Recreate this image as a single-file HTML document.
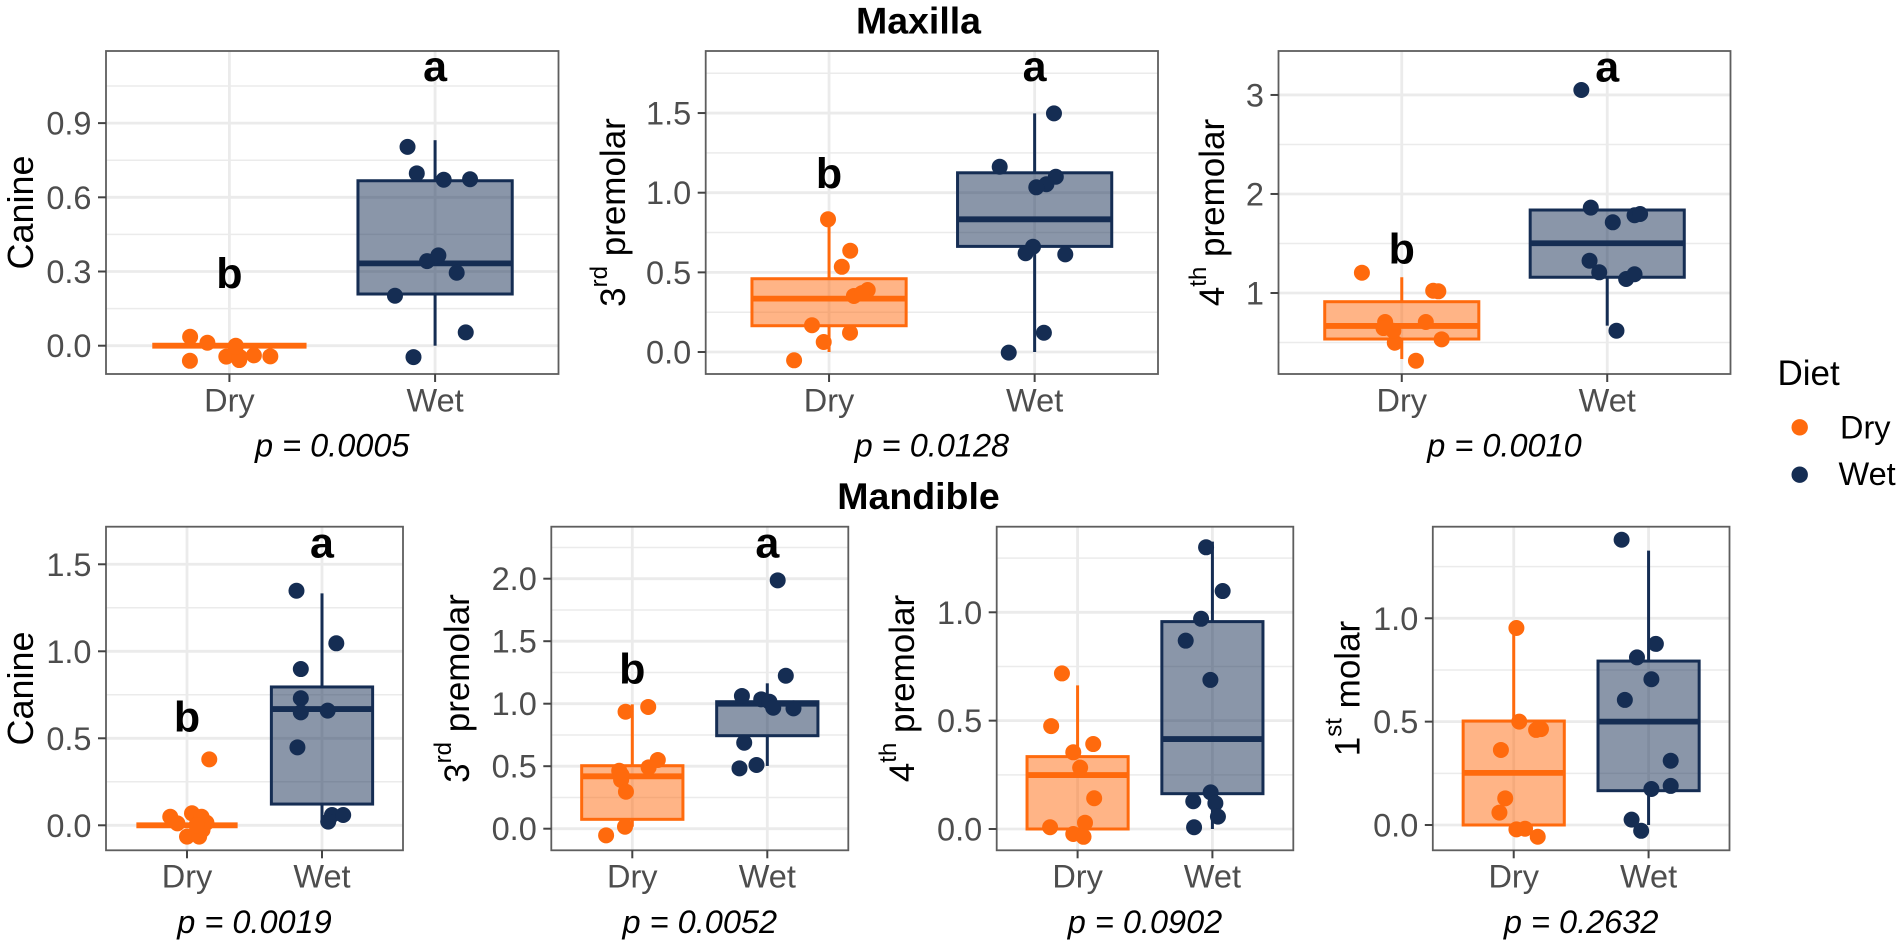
<!DOCTYPE html>
<html lang="en">
<head>
<meta charset="utf-8">
<title>Maxilla and Mandible box plots by diet</title>
<style>
  html, body { margin: 0; padding: 0; background: #ffffff; width: 1902px; height: 946px; overflow: hidden; }
  svg { display: block; font-family: "Liberation Sans", sans-serif; }
  text { white-space: pre; }
</style>
</head>
<body>
<svg id="figure" xmlns="http://www.w3.org/2000/svg" width="1902" height="946" viewBox="0 0 1902 946">
  <rect x="0" y="0" width="1902" height="946" fill="#ffffff"/>
  <text x="918.5" y="33.5" font-size="37.5" font-weight="bold" text-anchor="middle" fill="#000">Maxilla</text>
  <text x="918.5" y="509" font-size="37.5" font-weight="bold" text-anchor="middle" fill="#000">Mandible</text>
  <g>
    <text x="1777.5" y="385" font-size="35" fill="#000">Diet</text>
    <circle cx="1799.7" cy="427.3" r="8.2" fill="#ff6a0d"/>
    <text x="1840" y="438.3" font-size="32.5" fill="#000">Dry</text>
    <circle cx="1799.7" cy="474.7" r="8.2" fill="#152d53"/>
    <text x="1838.5" y="485" font-size="32.5" fill="#000">Wet</text>
  </g>
</svg>
<script>
// ---------- data ----------
const categories = ['Dry', 'Wet'];

// Box stats are: lower whisker, Q1, median, Q3, upper whisker.
// Jitter is in category units, relative to the category centre.
const maxCanineTicks = ['0.0', '0.3', '0.6', '0.9'];
const maxCanineDomain = [-0.1144, 1.1916];
const maxCanineDryValues = [0.036, 0.012, -0.061, 0, -0.044, -0.058, -0.039, -0.043, -0.045, -0.005];
const maxCanineDryJitter = [-0.191, -0.107, -0.192, 0.031, -0.015, 0.048, 0.119, 0.199, 0.05, 0.03];
const maxCanineWetValues = [0.804, 0.697, 0.671, 0.673, 0.342, 0.365, 0.295, 0.202, 0.054, -0.046];
const maxCanineWetJitter = [-0.134, -0.089, 0.042, 0.17, -0.039, 0.016, 0.105, -0.195, 0.149, -0.105];
const maxCanineDryBox = [0, 0, 0, 0, 0];
const maxCanineWetBox = [0, 0.209, 0.333, 0.667, 0.831];
const maxCanineLetters = ['b', 'a'];
const maxCanineLetterY = [0.233, 1.07];

const max3rdTicks = ['0.0', '0.5', '1.0', '1.5'];
const max3rdDomain = [-0.138, 1.8895];
const max3rdDryValues = [0.833, 0.636, 0.535, 0.389, 0.352, 0.37, 0.168, 0.121, 0.063, -0.052];
const max3rdDryJitter = [-0.005, 0.103, 0.062, 0.188, 0.121, 0.16, -0.083, 0.102, -0.026, -0.17];
const max3rdWetValues = [1.498, 1.163, 1.1, 1.053, 1.034, 0.661, 0.62, 0.613, 0.121, -0.004];
const max3rdWetJitter = [0.094, -0.17, 0.103, 0.057, 0.008, -0.008, -0.044, 0.149, 0.045, -0.126];
const max3rdDryBox = [0, 0.165, 0.335, 0.46, 0.833];
const max3rdWetBox = [0, 0.663, 0.833, 1.125, 1.498];
const max3rdLetters = ['b', 'a'];
const max3rdLetterY = [1.028, 1.701];

const max4thTicks = ['1', '2', '3'];
const max4thDomain = [0.1818, 3.444];
const max4thDryValues = [1.205, 1.023, 1.017, 0.707, 0.532, 0.316, 0.498, 0.707, 0.619, 0.646];
const max4thDryJitter = [-0.194, 0.153, 0.178, 0.117, 0.194, 0.069, -0.034, -0.081, -0.041, -0.089];
const max4thWetValues = [3.05, 1.862, 1.714, 1.785, 1.798, 1.326, 1.209, 1.141, 1.189, 0.619];
const max4thWetJitter = [-0.126, -0.08, 0.027, 0.133, 0.16, -0.086, -0.039, 0.092, 0.133, 0.045];
const max4thDryBox = [0.333, 0.535, 0.667, 0.912, 1.159];
const max4thWetBox = [0.67, 1.159, 1.502, 1.838, 1.838];
const max4thLetters = ['b', 'a'];
const max4thLetterY = [1.3, 3.134];

const manCanineTicks = ['0.0', '0.5', '1.0', '1.5'];
const manCanineDomain = [-0.1437, 1.716];
const manCanineDryValues = [0.379, 0.049, 0.011, 0.069, 0.049, 0.015, -0.065, -0.065, -0.027, 0.0];
const manCanineDryJitter = [0.165, -0.124, -0.071, 0.037, 0.108, 0.144, 0, 0.09, 0.115, 0.07];
const manCanineWetValues = [1.348, 1.046, 0.898, 0.73, 0.649, 0.659, 0.448, 0.059, 0.059, 0.021];
const manCanineWetJitter = [-0.189, 0.106, -0.157, -0.157, -0.157, 0.042, -0.182, 0.074, 0.157, 0.046];
const manCanineDryBox = [0, 0, 0, 0, 0];
const manCanineWetBox = [0.02, 0.122, 0.668, 0.795, 1.333];
const manCanineLetters = ['b', 'a'];
const manCanineLetterY = [0.538, 1.54];

const man3rdTicks = ['0.0', '0.5', '1.0', '1.5', '2.0'];
const man3rdDomain = [-0.1728, 2.416];
const man3rdDryValues = [0.974, 0.936, 0.55, 0.491, 0.464, 0.43, 0.39, 0.296, 0.016, -0.053];
const man3rdDryJitter = [0.118, -0.05, 0.189, 0.121, -0.097, -0.08, -0.083, -0.047, -0.054, -0.194];
const man3rdWetValues = [1.987, 1.224, 1.062, 1.035, 1.016, 0.968, 0.963, 0.688, 0.483, 0.51];
const man3rdWetJitter = [0.077, 0.137, -0.188, -0.045, 0.016, 0.044, 0.194, -0.171, -0.206, -0.08];
const man3rdDryBox = [0.016, 0.075, 0.419, 0.504, 0.995];
const man3rdWetBox = [0.502, 0.744, 1.0, 1.016, 1.163];
const man3rdLetters = ['b', 'a'];
const man3rdLetterY = [1.163, 2.171];

const man4thTicks = ['0.0', '0.5', '1.0'];
const man4thDomain = [-0.0983, 1.395];
const man4thDryValues = [0.718, 0.475, 0.392, 0.354, 0.283, 0.142, 0.029, 0.008, -0.023, -0.036];
const man4thDryJitter = [-0.116, -0.196, 0.116, -0.032, 0.019, 0.123, 0.055, -0.204, -0.032, 0.044];
const man4thWetValues = [1.3, 1.098, 0.97, 0.869, 0.688, 0.169, 0.128, 0.119, 0.057, 0.008];
const man4thWetJitter = [-0.047, 0.076, -0.084, -0.198, -0.015, -0.013, -0.142, 0.022, 0.041, -0.136];
const man4thDryBox = [0, 0, 0.249, 0.334, 0.663];
const man4thWetBox = [0, 0.163, 0.415, 0.957, 1.326];
const man4thLetters = [];
const man4thLetterY = [];

const man1stTicks = ['0.0', '0.5', '1.0'];
const man1stDomain = [-0.1224, 1.443];
const man1stDryValues = [0.953, 0.5, 0.46, 0.464, 0.363, 0.129, 0.06, -0.021, -0.018, -0.057];
const man1stDryJitter = [0.02, 0.041, 0.166, 0.202, -0.095, -0.063, -0.106, 0.02, 0.084, 0.178];
const man1stWetValues = [1.38, 0.876, 0.811, 0.705, 0.605, 0.311, 0.174, 0.189, 0.026, -0.028];
const man1stWetJitter = [-0.2, 0.054, -0.086, 0.021, -0.176, 0.164, 0.021, 0.164, -0.126, -0.055];
const man1stDryBox = [0, 0, 0.252, 0.503, 0.985];
const man1stWetBox = [0, 0.166, 0.5, 0.793, 1.327];
const man1stLetters = [];
const man1stLetterY = [];

// ---------- layout and style ----------
const ORANGE = '#ff6a0d';
const NAVY = '#152d53';
const GRID = '#ebebeb';
const TOP = [51, 374];
const BOTTOM = [526.7, 850.3];

const panels = [
  { id: 'maxilla-canine', left: 106, right: 558.5, band: TOP, ticks: maxCanineTicks, domain: maxCanineDomain, dryV: maxCanineDryValues, dryJ: maxCanineDryJitter, wetV: maxCanineWetValues, wetJ: maxCanineWetJitter, dryBox: maxCanineDryBox, wetBox: maxCanineWetBox, letters: maxCanineLetters, letterY: maxCanineLetterY, titleBase: 'Canine', titleSup: '', titleRest: '', titleX: 33, p: 'p = 0.0005', pY: 456.7, tickY: 411.5 },
  { id: 'maxilla-3rd-premolar', left: 705.7, right: 1158, band: TOP, ticks: max3rdTicks, domain: max3rdDomain, dryV: max3rdDryValues, dryJ: max3rdDryJitter, wetV: max3rdWetValues, wetJ: max3rdWetJitter, dryBox: max3rdDryBox, wetBox: max3rdWetBox, letters: max3rdLetters, letterY: max3rdLetterY, titleBase: '3', titleSup: 'rd', titleRest: ' premolar', titleX: 625, p: 'p = 0.0128', pY: 456.7, tickY: 411.5 },
  { id: 'maxilla-4th-premolar', left: 1278.5, right: 1730.5, band: TOP, ticks: max4thTicks, domain: max4thDomain, dryV: max4thDryValues, dryJ: max4thDryJitter, wetV: max4thWetValues, wetJ: max4thWetJitter, dryBox: max4thDryBox, wetBox: max4thWetBox, letters: max4thLetters, letterY: max4thLetterY, titleBase: '4', titleSup: 'th', titleRest: ' premolar', titleX: 1224, p: 'p = 0.0010', pY: 456.7, tickY: 411.5 },
  { id: 'mandible-canine', left: 106, right: 403, band: BOTTOM, ticks: manCanineTicks, domain: manCanineDomain, dryV: manCanineDryValues, dryJ: manCanineDryJitter, wetV: manCanineWetValues, wetJ: manCanineWetJitter, dryBox: manCanineDryBox, wetBox: manCanineWetBox, letters: manCanineLetters, letterY: manCanineLetterY, titleBase: 'Canine', titleSup: '', titleRest: '', titleX: 33, p: 'p = 0.0019', pY: 933, tickY: 887.5 },
  { id: 'mandible-3rd-premolar', left: 551.3, right: 848.3, band: BOTTOM, ticks: man3rdTicks, domain: man3rdDomain, dryV: man3rdDryValues, dryJ: man3rdDryJitter, wetV: man3rdWetValues, wetJ: man3rdWetJitter, dryBox: man3rdDryBox, wetBox: man3rdWetBox, letters: man3rdLetters, letterY: man3rdLetterY, titleBase: '3', titleSup: 'rd', titleRest: ' premolar', titleX: 469, p: 'p = 0.0052', pY: 933, tickY: 887.5 },
  { id: 'mandible-4th-premolar', left: 996.7, right: 1293.3, band: BOTTOM, ticks: man4thTicks, domain: man4thDomain, dryV: man4thDryValues, dryJ: man4thDryJitter, wetV: man4thWetValues, wetJ: man4thWetJitter, dryBox: man4thDryBox, wetBox: man4thWetBox, letters: man4thLetters, letterY: man4thLetterY, titleBase: '4', titleSup: 'th', titleRest: ' premolar', titleX: 914, p: 'p = 0.0902', pY: 933, tickY: 887.5 },
  { id: 'mandible-1st-molar', left: 1432.8, right: 1729.5, band: BOTTOM, ticks: man1stTicks, domain: man1stDomain, dryV: man1stDryValues, dryJ: man1stDryJitter, wetV: man1stWetValues, wetJ: man1stWetJitter, dryBox: man1stDryBox, wetBox: man1stWetBox, letters: man1stLetters, letterY: man1stLetterY, titleBase: '1', titleSup: 'st', titleRest: ' molar', titleX: 1359.5, p: 'p = 0.2632', pY: 933, tickY: 887.5 }
];

// ---------- drawing ----------
const SVG_NS = 'http://www.w3.org/2000/svg';
const figure = document.getElementById('figure');

function make(parent, tag, attrs, content) {
  const node = document.createElementNS(SVG_NS, tag);
  Object.keys(attrs).forEach(function (k) { node.setAttribute(k, attrs[k]); });
  if (content !== undefined) node.textContent = content;
  parent.appendChild(node);
  return node;
}

function drawPanel(cfg) {
  const L = cfg.left, R = cfg.right, T = cfg.band[0], B = cfg.band[1];
  const step = (R - L) / 2.2;
  const xScale = function (c) { return L + (0.6 + c) * step; };
  const yScale = function (v) {
    return B - (v - cfg.domain[0]) / (cfg.domain[1] - cfg.domain[0]) * (B - T);
  };

  const g = make(figure, 'g', {});
  
  

  // Minor gridlines sit midway between major ticks, extended across the domain.
  const tickVals = cfg.ticks.map(parseFloat);
  const tickStep = tickVals[1] - tickVals[0];
  for (let m = tickVals[0] - tickStep / 2; m < cfg.domain[1]; m += tickStep) {
    if (m <= cfg.domain[0] || tickVals.some(function (t) { return Math.abs(t - m) < 1e-6; })) continue;
    const minor = make(g, 'line', { x1: L, x2: R, y1: yScale(m), y2: yScale(m), stroke: GRID, 'stroke-width': 1.5 });
    
    
  }
  tickVals.forEach(function (t) {
    const major = make(g, 'line', { x1: L, x2: R, y1: yScale(t), y2: yScale(t), stroke: GRID, 'stroke-width': 2.8 });
    
    
  });
  categories.forEach(function (c, i) {
    const vert = make(g, 'line', { x1: xScale(i), x2: xScale(i), y1: T, y2: B, stroke: GRID, 'stroke-width': 2.8 });
    
    
  });

  // Boxes and whiskers.
  const series = [
    { name: 'dry', color: ORANGE, box: cfg.dryBox, values: cfg.dryV, jitter: cfg.dryJ },
    { name: 'wet', color: NAVY, box: cfg.wetBox, values: cfg.wetV, jitter: cfg.wetJ }
  ];
  series.forEach(function (s, i) {
    const cx = xScale(i), half = 0.375 * step;
    const lowWhisker = make(g, 'line', { x1: cx, x2: cx, y1: yScale(s.box[1]), y2: yScale(s.box[0]), stroke: s.color, 'stroke-width': 3 });
    
    
    const highWhisker = make(g, 'line', { x1: cx, x2: cx, y1: yScale(s.box[3]), y2: yScale(s.box[4]), stroke: s.color, 'stroke-width': 3 });
    
    
    const box = make(g, 'rect', { x: cx - half, y: yScale(s.box[3]), width: half * 2, height: yScale(s.box[1]) - yScale(s.box[3]), fill: s.color, 'fill-opacity': 0.5, stroke: s.color, 'stroke-width': 3 });
    
    
    const median = make(g, 'line', { x1: cx - half, x2: cx + half, y1: yScale(s.box[2]), y2: yScale(s.box[2]), stroke: s.color, 'stroke-width': 5.8 });
    
    
  });

  // Jittered points.
  series.forEach(function (s, i) {
    s.values.forEach(function (v, k) {
      const dot = make(g, 'circle', { cx: xScale(i + s.jitter[k]), cy: yScale(v), r: 8, fill: s.color });
      
      
    });
  });

  // Significance letters.
  cfg.letters.forEach(function (letter, i) {
    const label = make(g, 'text', { x: xScale(i), y: yScale(cfg.letterY[i]), 'font-size': 43, 'font-weight': 'bold', 'text-anchor': 'middle', fill: '#000' }, letter);
    
    
  });

  // Panel border.
  const border = make(g, 'rect', { x: L, y: T, width: R - L, height: B - T, fill: 'none', stroke: '#5e5e5e', 'stroke-width': 1.8 });
  
  

  // Y axis.
  cfg.ticks.forEach(function (label, i) {
    const y = yScale(tickVals[i]);
    const mark = make(g, 'line', { x1: L - 8, x2: L, y1: y, y2: y, stroke: '#444', 'stroke-width': 2 });
    
    
    const tickText = make(g, 'text', { x: L - 14.5, y: y + 11.5, 'font-size': 32.5, 'text-anchor': 'end', fill: '#4d4d4d' }, label);
    
    
  });

  // X axis.
  categories.forEach(function (c, i) {
    const mark = make(g, 'line', { x1: xScale(i), x2: xScale(i), y1: B, y2: B + 8, stroke: '#444', 'stroke-width': 2 });
    
    
    const tickText = make(g, 'text', { x: xScale(i), y: cfg.tickY, 'font-size': 32.5, 'text-anchor': 'middle', fill: '#4d4d4d' }, c);
    
    
  });

  // Y axis title, with optional superscript.
  const midY = (T + B) / 2;
  const title = make(g, 'text', { transform: 'translate(' + cfg.titleX + ',' + midY + ') rotate(-90)', 'font-size': cfg.titleSup ? 35 : 36, 'text-anchor': 'middle', fill: '#000' });
  
  
  make(title, 'tspan', {}, cfg.titleBase);
  if (cfg.titleSup) {
    make(title, 'tspan', { dy: -18, 'font-size': 24 }, cfg.titleSup);
    make(title, 'tspan', { dy: 18 }, cfg.titleRest);
  }

  // p-value caption.
  const pLabel = make(g, 'text', { x: (L + R) / 2, y: cfg.pY, 'font-size': 32.5, 'font-style': 'italic', 'text-anchor': 'middle', fill: '#000' }, cfg.p);
  
  
}

panels.forEach(drawPanel);
</script>
</body>
</html>
